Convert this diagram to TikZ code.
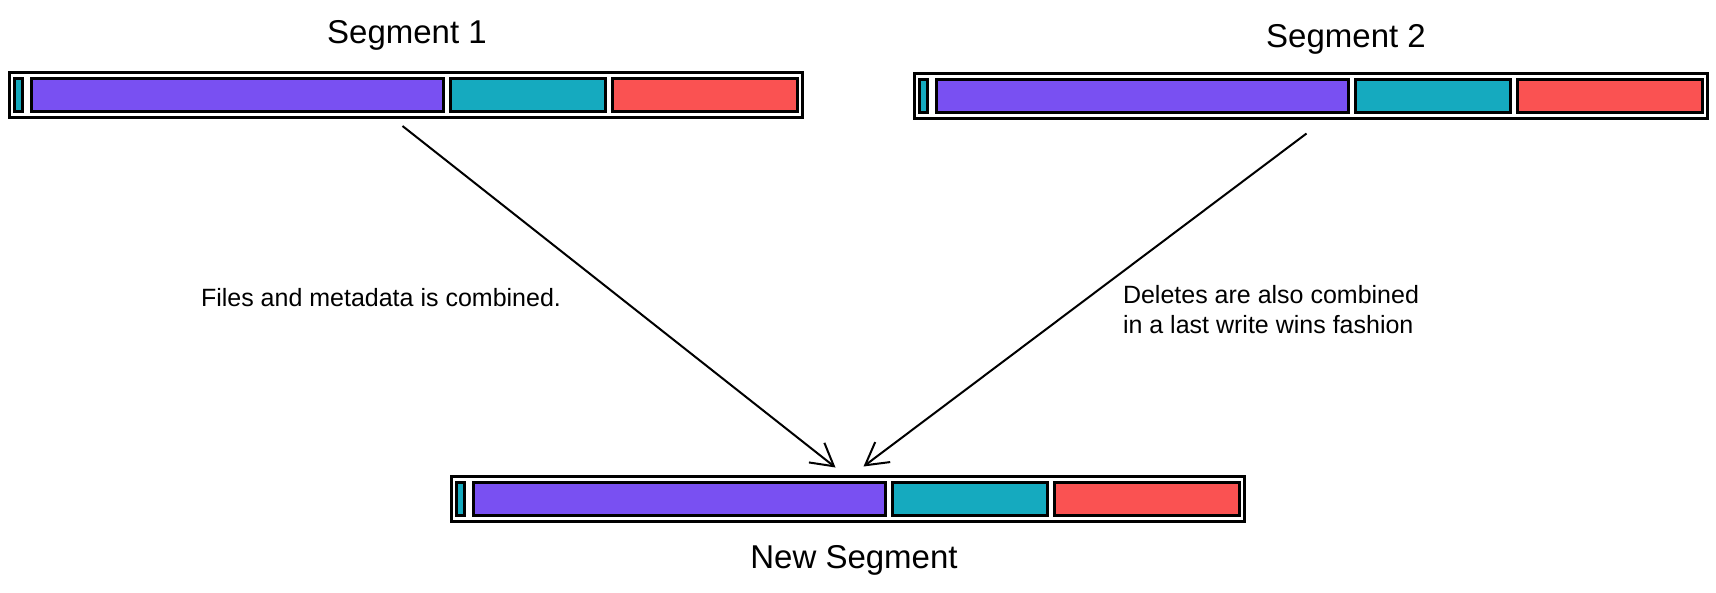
\documentclass[tikz,border=0pt]{standalone}
\usepackage{fontspec}
\setmainfont{Liberation Sans}
\usetikzlibrary{positioning,arrows.meta}
\definecolor{SegPurple}{RGB}{121,80,242}
\definecolor{SegTeal}{RGB}{21,170,191}
\definecolor{SegRed}{RGB}{250,82,82}

\begin{document}
\begin{tikzpicture}[x=1pt, y=-1pt, node distance=7pt,
  every node/.style={inner sep=0pt, outer sep=0pt},
  segbox/.style={draw, line width=3pt, minimum width=793pt, minimum height=45pt},
  part/.style={draw, line width=3pt, minimum height=33pt},
  seglabel/.style={font=\fontsize{33}{40}\selectfont, anchor=base},
  note/.style={font=\fontsize{25}{30}\selectfont, align=left},
  merge/.style={line width=2pt, -{Straight Barb[length=22pt, width=25pt, line width=2pt]}}]
\useasboundingbox (0,0) rectangle (1716,592);
% first segment
\node[segbox] (s1) at (405.5,94.5) {};
\node[part, fill=SegTeal, minimum width=8pt, right=5pt of s1.west] (s1a) {};
\node[part, fill=SegPurple, minimum width=412pt, right=9pt of s1a] (s1b) {};
\node[part, fill=SegTeal, minimum width=155pt, right=of s1b] (s1c) {};
\node[part, fill=SegRed, minimum width=185pt, right=of s1c] (s1d) {};
\node[seglabel] (l1) at (407,43) {Segment 1};
% second segment
\node[segbox] (s2) at (1310.5,96) {};
\node[part, fill=SegTeal, minimum width=8pt, right=5pt of s2.west] (s2a) {};
\node[part, fill=SegPurple, minimum width=412pt, right=9pt of s2a] (s2b) {};
\node[part, fill=SegTeal, minimum width=155pt, right=of s2b] (s2c) {};
\node[part, fill=SegRed, minimum width=185pt, right=of s2c] (s2d) {};
\node[seglabel] (l2) at (1346,47) {Segment 2};
% merged segment
\node[segbox] (s3) at (847.5,499) {};
\node[part, fill=SegTeal, minimum width=8pt, right=5pt of s3.west] (s3a) {};
\node[part, fill=SegPurple, minimum width=412pt, right=9pt of s3a] (s3b) {};
\node[part, fill=SegTeal, minimum width=155pt, right=of s3b] (s3c) {};
\node[part, fill=SegRed, minimum width=185pt, right=of s3c] (s3d) {};
\node[seglabel] (l3) at (854,568) {New Segment};
% notes
\node[note, anchor=base west] (n1) at (201,306) {Files and metadata is combined.};
\node[note, anchor=north west] (n2) at (1123,285) {Deletes are also combined\\in a last write wins fashion};
\draw[merge] ([xshift=-3pt, yshift=-9pt]s1.south) -- ([xshift=-12pt, yshift=9pt]s3.north);
\draw[merge] ([xshift=-4pt, yshift=-15pt]s2.south) -- ([xshift=16pt, yshift=10pt]s3.north);
\end{tikzpicture}
\end{document}
